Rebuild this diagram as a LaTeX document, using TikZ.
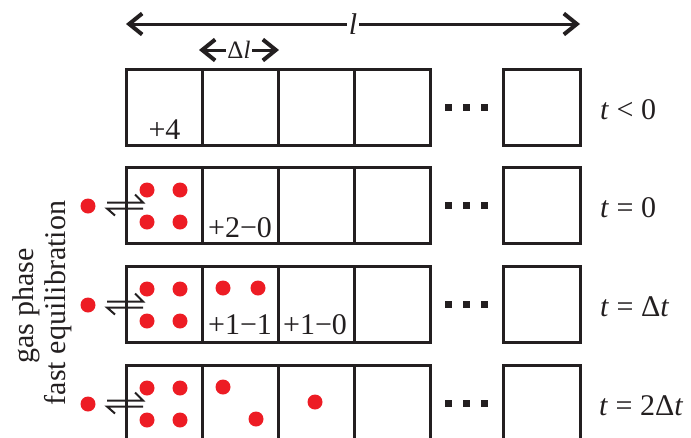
\documentclass[tikz,border=0pt]{standalone}
\usepackage{fontspec}
\setmainfont{Liberation Serif}
\usetikzlibrary{arrows.meta,calc}
\definecolor{dotred}{RGB}{237,28,36}
\definecolor{ink}{RGB}{35,31,32}
\tikzset{
  cell/.style={draw=ink, line width=3pt, minimum width=76pt, minimum height=76pt, inner sep=0pt},
  ball/.style={circle, fill=dotred, minimum size=15pt, inner sep=0pt},
  lab/.style={font=\fontsize{30}{34}\selectfont, inner sep=0pt, text=ink},
  smalllab/.style={font=\fontsize{25}{28}\selectfont, inner sep=0pt, text=ink},
  ellip/.style={fill=ink, minimum size=7pt, inner sep=0pt},
  harp/.style={draw=ink, line width=2pt},
  dimline/.style={draw=ink, line width=3pt,
    {Straight Barb[length=13pt,width=21pt,line width=4pt]}-{Straight Barb[length=13pt,width=21pt,line width=4pt]}},
}
\begin{document}
\begin{tikzpicture}[x=1pt,y=-1pt]
\useasboundingbox (0,0) rectangle (691,437);
\clip (0,0) rectangle (691,437);

% overall length arrow
\coordinate (Ll) at (126,24);
\coordinate (Lr) at (580,24);
\draw[dimline] (Ll) -- node[lab, fill=white, inner sep=1.5pt] (lbl) {\textit{l}} (Lr);

% cell width arrow
\coordinate (dl) at (199,50);
\coordinate (dr) at (279,50);
\draw[dimline] (dl) -- node[smalllab, fill=white, inner sep=1pt] (dlbl) {Δ\textit{l}} (dr);

% rows of cells
\foreach \r/\y in {1/107,2/205,3/304,4/403}{
  \node[cell] (c\r1) at (164,\y) {};
  \node[cell] (c\r2) at (240,\y) {};
  \node[cell] (c\r3) at (316,\y) {};
  \node[cell] (c\r4) at (392,\y) {};
  \node[cell, minimum width=77pt] (c\r5) at (541.5,\y) {};
  \node[ellip] (e\r a) at (448,\y) {};
  \node[ellip] (e\r b) at (466,\y) {};
  \node[ellip] (e\r c) at (484,\y) {};
}

% time labels
\node[lab, anchor=base west] (t1) at (600,119) {\textit{t} < 0};
\node[lab, anchor=base west] (t2) at (600,217) {\textit{t} = 0};
\node[lab, anchor=base west] (t3) at (600,316) {\textit{t} = Δ\textit{t}};
\node[lab, anchor=base west] (t4) at (599,415) {\textit{t} = 2Δ\textit{t}};

% cell counts
\node[lab, anchor=base] (n1) at (164.5,139) {+4};
\node[lab, anchor=base] (n2) at (240,237) {+2−0};
\node[lab, anchor=base] (n3) at (240,334) {+1−1};
\node[lab, anchor=base] (n4) at (315,334) {+1−0};

% particles in first cells
\foreach \r/\y in {2/205,3/304,4/403}{
  \node[ball] (p\r a) at (147,\y-15) {};
  \node[ball] (p\r b) at (180,\y-15) {};
  \node[ball] (p\r c) at (147,\y+17) {};
  \node[ball] (p\r d) at (180,\y+17) {};
  % gas phase particle
  \node[ball] (g\r) at (88,\y+1) {};
  % equilibrium harpoons
  \draw[harp] ($(g\r)+(19,-3.5)$) -- ++(36,0) -- ++(-8,-8);
  \draw[harp] ($(g\r)+(55,2.5)$) -- ++(-36,0) -- ++(8,7);
}
\node[ball] (q3a) at (223,288) {};
\node[ball] (q3b) at (258,288) {};
\node[ball] (q4a) at (223,387) {};
\node[ball] (q4b) at (256,419) {};
\node[ball] (q4c) at (315,402) {};

% side caption
\node[lab, rotate=90, anchor=base] (cap1) at (33,306) {gas phase};
\node[lab, rotate=90, anchor=base] (cap2) at (65,303) {fast equilibration};
\end{tikzpicture}
\end{document}
